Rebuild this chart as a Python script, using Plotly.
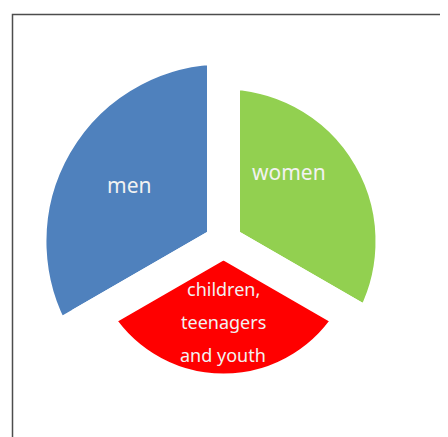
import plotly.graph_objects as go

# ---- data ----
groups = ["men", "women", "children"]
group_labels = ["men", "women", "children,<br>teenagers<br>and youth"]
shares = [1, 1, 1]                      # three equal 120-degree slices
relative_size = [0.99, 0.862, 0.76]     # drawn radius of each slice
colors = ["#4F81BD", "#92D050", "#FF0000"]

# the page body has an 8px margin, so the figure is drawn 8px in from the window corner
OFF = 8
W, H = 448 - OFF, 437 - OFF
cx, cy = 223.5 - OFF, 241.5 - OFF   # pie centre in figure px (from top-left)
R = 195.5                            # polar radius in px

fig = go.Figure()
fig.add_trace(go.Barpolar(
    theta=groups,
    r=relative_size,
    marker=dict(color=colors, line=dict(color="white", width=33)),
    hoverinfo="text",
    hovertext=[f"{g}: {s}" for g, s in zip(groups, shares)],
    showlegend=False,
))


def px(x, y):
    return (x - OFF) / W, 1 - (y - OFF) / H


# labels
label_pos = {"men": (129, 185, 21), "women": (289, 172, 21)}
for g, lab in zip(groups[:2], group_labels[:2]):
    x, y, fs = label_pos[g]
    ax, ay = px(x, y)
    fig.add_annotation(x=ax, y=ay, xref="paper", yref="paper",
                       xanchor="center", yanchor="middle",
                       text=lab, showarrow=False,
                       font=dict(family="Noto Sans", size=fs, color="#f2f2f2"))
child_lines = group_labels[2].split("<br>")
for i, line in enumerate(child_lines):
    ax, ay = px(223, 289 + 33 * i)
    fig.add_annotation(x=ax, y=ay, xref="paper", yref="paper",
                       xanchor="center", yanchor="middle",
                       text=line, showarrow=False,
                       font=dict(family="Noto Sans", size=18, color="#f2f2f2"))

fx0, fy1 = px(12.5, 14.5)
fig.add_shape(type="rect", xref="paper", yref="paper",
              x0=fx0, x1=1.2, y0=-0.2, y1=fy1,
              line=dict(color="#4d4d4d", width=1.5), fillcolor="rgba(0,0,0,0)")

fig.update_layout(
    width=W, height=H,
    margin=dict(l=0, r=0, t=0, b=0),
    paper_bgcolor="white",
    polar=dict(
        domain=dict(x=[(cx - R) / W, (cx + R) / W],
                    y=[max(0, (H - cy - R) / H), min(1, (H - cy + R) / H)]),
        bgcolor="rgba(0,0,0,0)",
        bargap=0,
        radialaxis=dict(visible=False, range=[0, 1]),
        angularaxis=dict(visible=False, type="category", rotation=150,
                         direction="clockwise"),
    ),
)

fig.write_html("out.html")
